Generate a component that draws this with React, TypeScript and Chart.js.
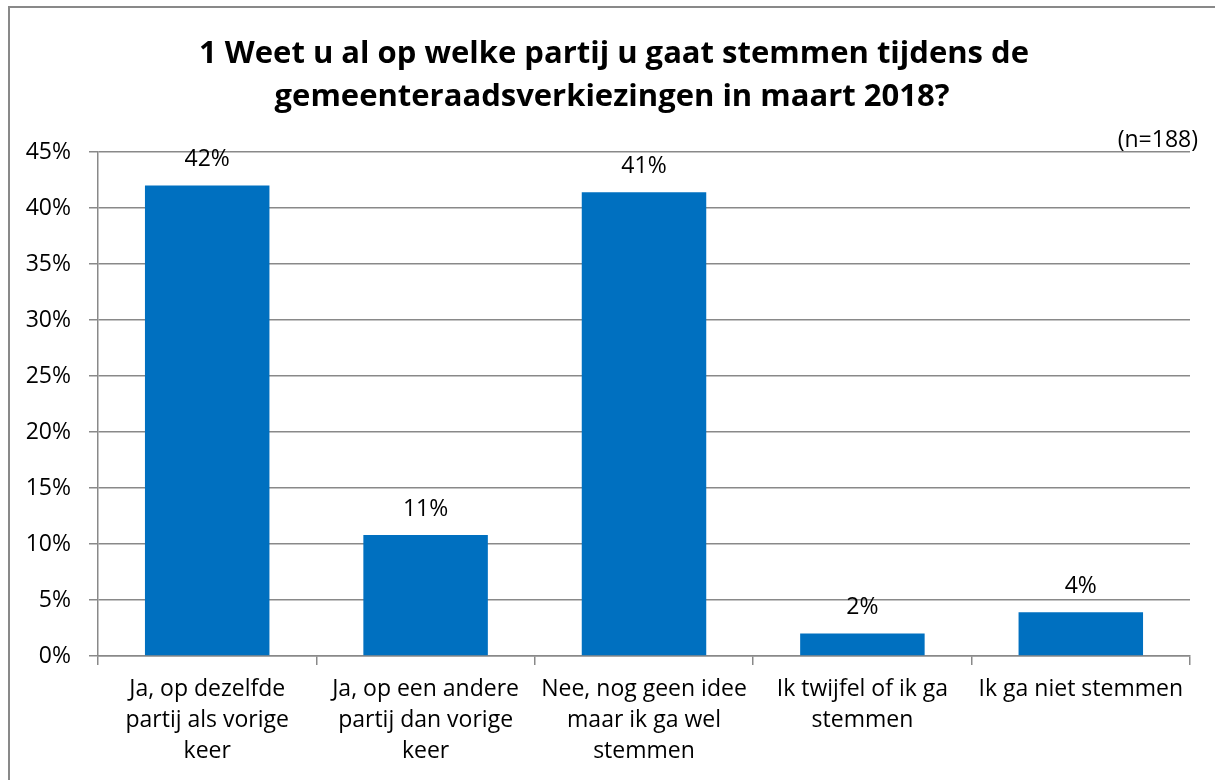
import React, { useEffect, useRef } from 'react';
import { Chart, registerables } from 'chart.js';

Chart.register(...registerables);

const categories: string[][] = [
  ['Ja, op dezelfde', 'partij als vorige', 'keer'],
  ['Ja, op een andere', 'partij dan vorige', 'keer'],
  ['Nee, nog geen idee', 'maar ik ga wel', 'stemmen'],
  ['Ik twijfel of ik ga', 'stemmen'],
  ['Ik ga niet stemmen'],
];
const values: number[] = [42.0, 10.8, 41.4, 2.0, 3.9];
const valueLabels: string[] = ['42%', '11%', '41%', '2%', '4%'];
const titleLines: string[] = [
  '1 Weet u al op welke partij u gaat stemmen tijdens de',
  'gemeenteraadsverkiezingen in maart 2018?',
];
const noteText = '(n=188)';
const yMin = 0;
const yMax = 45;
const yStep = 5;

const FONT = '"Open Sans", Lato, sans-serif';
const GRID = '#898989';
const BAR = '#0070C0';

const decorPlugin = {
  id: 'decor',
  afterDraw(chart: any) {
    const ctx = chart.ctx;
    ctx.save();
    // outer border
    ctx.strokeStyle = GRID;
    ctx.lineWidth = 2;
    ctx.strokeRect(9, 7, 1240, 800);
    // title
    ctx.fillStyle = '#000';
    ctx.font = `bold 31px ${FONT}`;
    ctx.textAlign = 'center';
    ctx.textBaseline = 'middle';
    ctx.fillText(titleLines[0], 614, 54);
    ctx.fillText(titleLines[1], 612, 97);
    // note
    ctx.font = `23px ${FONT}`;
    ctx.textAlign = 'right';
    ctx.fillText(noteText, 1198, 140);
    // data labels
    ctx.textAlign = 'center';
    const meta = chart.getDatasetMeta(0);
    meta.data.forEach((el: any, i: number) => {
      ctx.fillText(valueLabels[i], el.x, el.y - 26);
    });
    ctx.restore();
  },
};

export default function App() {
  const ref = useRef<HTMLCanvasElement>(null);
  useEffect(() => {
    document.body.style.margin = '0';
    if (!ref.current) return;
    const chart = new Chart(ref.current, {
      type: 'bar',
      data: {
        labels: categories,
        datasets: [
          {
            data: values,
            backgroundColor: BAR,
            barPercentage: 0.57,
            categoryPercentage: 1,
          },
        ],
      },
      options: {
        responsive: false,
        animation: false,
        layout: { padding: { left: 10, right: 25, top: 152, bottom: 0 } },
        plugins: {
          legend: { display: false },
          title: { display: false },
          tooltip: { enabled: false },
        },
        scales: {
          x: {
            grid: {
              offset: true,
              drawOnChartArea: false,
              drawTicks: true,
              tickLength: 9,
              color: GRID,
              lineWidth: 1.5,
            },
            border: { color: GRID, width: 1.5 },
            ticks: {
              color: '#000',
              font: { family: FONT, size: 23, lineHeight: 1.35 },
              padding: 9,
              maxRotation: 0,
              autoSkip: false,
            },
            afterFit(scale: any) {
              scale.height = 124;
            },
          },
          y: {
            min: yMin,
            max: yMax,
            grid: {
              color: GRID,
              lineWidth: 1.5,
              tickLength: 9,
            },
            border: { color: GRID, width: 1.5 },
            ticks: {
              stepSize: yStep,
              color: '#000',
              font: { family: FONT, size: 23 },
              padding: 18,
              callback: (v: any) => `${v}%`,
            },
            afterFit(scale: any) {
              scale.width = 88;
            },
          },
        },
      },
      plugins: [decorPlugin],
    });
    return () => chart.destroy();
  }, []);
  return (
    <div style={{ width: 1215, height: 780, background: '#fff' }}>
      <canvas ref={ref} width={1215} height={780} />
    </div>
  );
}
